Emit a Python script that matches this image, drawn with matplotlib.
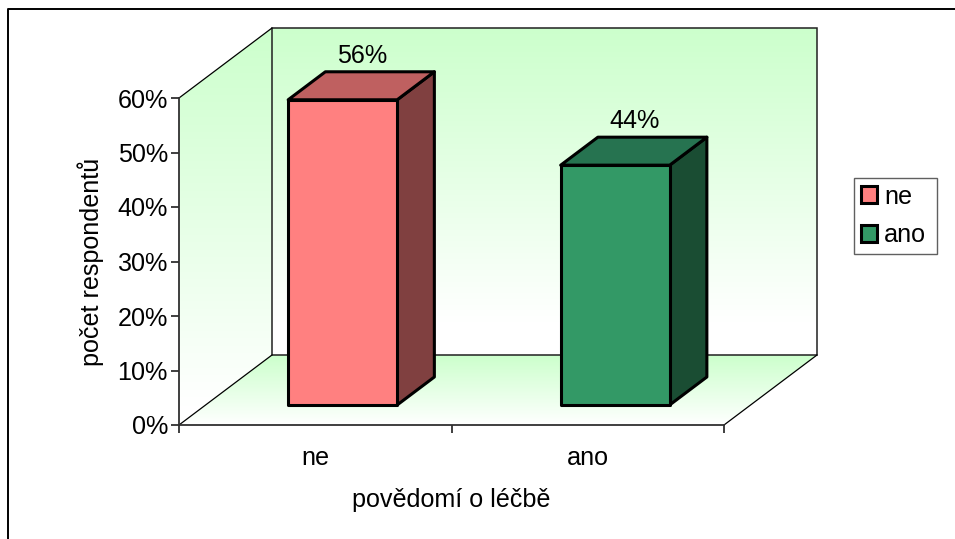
import numpy as np
from matplotlib import pyplot as plt
from matplotlib.patches import Patch, Polygon
from matplotlib.lines import Line2D

categories = ['ne', 'ano']
values = [56, 44]
labels = ['56%', '44%']
yticks = [0, 10, 20, 30, 40, 50, 60]

front_colors = ['#FF8080', '#339966']
top_colors = ['#BF6060', '#267350']
side_colors = ['#804040', '#1A4D33']

plt.rcParams['font.family'] = ['Liberation Sans', 'DejaVu Sans']
plt.rcParams['font.size'] = 18.1

W, H = 955, 539
fig = plt.figure(figsize=(W / 100, H / 100), dpi=100, facecolor='white')

# front plane of the chart box, in pixels from the top left
left, right, top, bottom = 179, 724, 98, 425
ax = fig.add_axes([left / W, 1 - bottom / H, (right - left) / W, (bottom - top) / H])
ax.set_xlim(0, 2)
ax.set_ylim(0, 60)
ax.patch.set_visible(False)

# oblique depth: d=1 is the back wall
depth_x = 93 / ((right - left) / 2)
depth_y = 70 / ((bottom - top) / 60)


def proj(x, y, d):
    return x + d * depth_x, y + d * depth_y


def face(corners, **kw):
    p = Polygon([proj(*c) for c in corners], closed=True, clip_on=False, **kw)
    ax.add_patch(p)
    return p


def gradient(corners, stops, ext):
    # vertical green to white fill, clipped to one wall
    clip = face(corners, facecolor='none', edgecolor='none')
    grad = np.linspace(0, 1, 256)[:, None]
    white = np.interp(grad, stops, [0, 1])
    c0 = np.array([0xCC, 0xFF, 0xCC]) / 255
    img = (c0 + (1 - c0) * white[..., None])
    im = ax.imshow(img, extent=ext, origin='upper', aspect='auto', zorder=0,
                   interpolation='bilinear')
    im.set_clip_box(fig.bbox)
    im.set_clip_path(clip)


x1, y1 = proj(0, 0, 1)
x2, y2 = proj(2, 60, 1)

# back wall, left wall, floor
gradient([(0, 0, 1), (2, 0, 1), (2, 60, 1), (0, 60, 1)], [0, 0.9], (x1, x2, y1, y2))
gradient([(0, 0, 0), (0, 0, 1), (0, 60, 1), (0, 60, 0)], [0, 0.95], (0, x1, 0, y2))
gradient([(0, 0, 0), (2, 0, 0), (2, 0, 1), (0, 0, 1)], [0, 1], (0, x2, 0, y1))
ax.set_xlim(0, 2)
ax.set_ylim(0, 60)

face([(0, 0, 1), (2, 0, 1), (2, 60, 1), (0, 60, 1)], facecolor='none',
     edgecolor='#202020', linewidth=1.1, zorder=1)
for a, b in [((0, 0, 0), (0, 0, 1)), ((0, 60, 0), (0, 60, 1)), ((2, 0, 0), (2, 0, 1))]:
    xs, ys = zip(proj(*a), proj(*b))
    ax.plot(xs, ys, color='black', linewidth=0.9, clip_on=False, zorder=1)

# bars: three visible faces each
bar_w = 0.4
d0, d1 = 0.286, 0.686
for i, v in enumerate(values):
    x0 = i + 0.5 - bar_w / 2 + 0.003
    x3 = x0 + bar_w
    style = dict(edgecolor='black', linewidth=2.2, joinstyle='round', zorder=3)
    face([(x3, 0, d0), (x3, 0, d1), (x3, v, d1), (x3, v, d0)], facecolor=side_colors[i], **style)
    face([(x0, v, d0), (x3, v, d0), (x3, v, d1), (x0, v, d1)], facecolor=top_colors[i], **style)
    face([(x0, 0, d0), (x3, 0, d0), (x3, v, d0), (x0, v, d0)], facecolor=front_colors[i], **style)
    # label sits over the middle of the bar's top, above its rear edge
    lx = proj(i + 0.5, v, (d0 + d1) / 2)[0]
    ly = proj(i + 0.5, v, d1)[1]
    ax.annotate(labels[i], (lx, ly), xytext=(1, 3), textcoords='offset points',
                ha='center', va='bottom', annotation_clip=False, zorder=4)

# axes
for s in ['top', 'right']:
    ax.spines[s].set_visible(False)
for s in ['left', 'bottom']:
    ax.spines[s].set_color('#303030')
    ax.spines[s].set_linewidth(1.3)
ax.set_yticks(yticks)
ax.set_yticklabels([f'{t}%' for t in yticks])
ax.set_xticks([0, 1, 2])
ax.set_xticklabels([])
ax.set_xticks([0.5, 1.5], minor=True)
ax.set_xticklabels(categories, minor=True)
ax.tick_params(axis='both', which='major', length=6, width=1.3, color='#303030', pad=2)
ax.tick_params(axis='x', which='minor', length=0, pad=15)
ax.set_xlabel('povědomí o léčbě', labelpad=13)
ax.set_ylabel('počet respondentů', labelpad=10)

# legend, stretched to a fixed width
handles = [Patch(facecolor=c, edgecolor='black', linewidth=2.2) for c in front_colors]
leg = fig.legend(handles, categories, loc='upper left', mode='expand',
                 bbox_to_anchor=(854 / W, 1 - 178 / H, 83 / W, 0), bbox_transform=fig.transFigure,
                 fancybox=False, framealpha=1, edgecolor='#606060',
                 handlelength=0.66, handleheight=0.66, handletextpad=0.26,
                 labelspacing=0.56, borderpad=0.27, borderaxespad=0)
leg.get_frame().set_linewidth(1.0)

# outer frame of the chart area, open at the bottom
frame_x = [8 / W, 8 / W, 1]
frame_y = [0, 1 - 8.5 / H, 1 - 8.5 / H]
fig.add_artist(Line2D(frame_x, frame_y, color='black', linewidth=1.4, transform=fig.transFigure))

fig.savefig('out.png', dpi=100)
